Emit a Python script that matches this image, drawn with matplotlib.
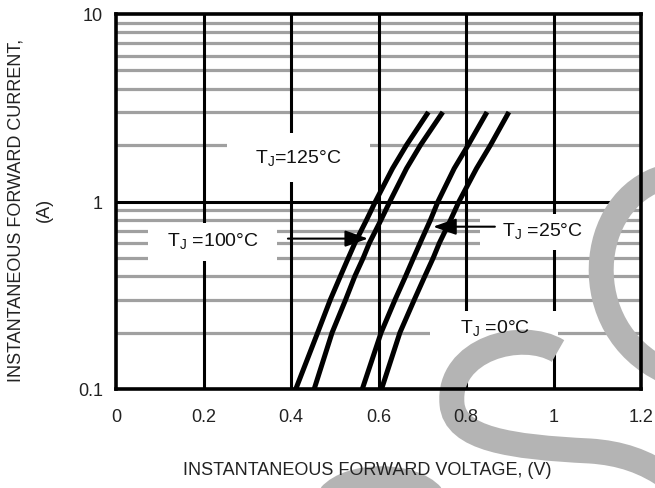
import matplotlib
matplotlib.use('Agg')
import matplotlib.pyplot as plt
from matplotlib.patches import Rectangle, PathPatch
from matplotlib.path import Path
from matplotlib.ticker import NullLocator, FixedLocator, FixedFormatter

# forward current (A) at which the curves were read
current_a = [0.1, 0.2, 0.3, 0.4, 0.5, 0.6, 0.8, 1.0, 1.5, 2.0, 3.0]

# forward voltage (V) per junction temperature
v_125c = [0.411, 0.461, 0.490, 0.513, 0.531, 0.546, 0.573, 0.593, 0.632, 0.664, 0.714]
v_100c = [0.453, 0.494, 0.525, 0.546, 0.565, 0.579, 0.606, 0.626, 0.664, 0.696, 0.747]
v_25c = [0.563, 0.606, 0.638, 0.662, 0.680, 0.695, 0.719, 0.736, 0.773, 0.805, 0.848]
v_0c = [0.607, 0.649, 0.682, 0.706, 0.725, 0.739, 0.765, 0.784, 0.824, 0.856, 0.898]

x_ticks = [0, 0.2, 0.4, 0.6, 0.8, 1.0, 1.2]
x_tick_labels = ['0', '0.2', '0.4', '0.6', '0.8', '1', '1.2']
y_ticks = [0.1, 1, 10]
y_tick_labels = ['0.1', '1', '10']

plt.rcParams['font.family'] = ['Liberation Sans', 'DejaVu Sans']
plt.rcParams['mathtext.fontset'] = 'custom'
plt.rcParams['mathtext.rm'] = 'Liberation Sans'
plt.rcParams['mathtext.it'] = 'Liberation Sans:italic'
plt.rcParams['mathtext.bf'] = 'Liberation Sans:bold'
plt.rcParams['mathtext.default'] = 'regular'

W, H = 655, 489
fig = plt.figure(figsize=(W / 100, H / 100), dpi=100)
ax = fig.add_axes([116 / W, 1 - 390 / H, 525 / W, 375 / H])
ax.set_yscale('log')
ax.set_xlim(0, 1.2)
ax.set_ylim(0.1, 10)

GRAY = '#a0a0a0'

# grid: gray minor decades, black majors
for d in (0.1, 1):
    for m in range(2, 10):
        ax.axhline(m * d, color=GRAY, lw=2.3, zorder=1)
ax.axhline(1, color='black', lw=2.2, zorder=1.1)
for v in x_ticks[1:-1]:
    ax.axvline(v, color='black', lw=2.2, zorder=1.1)

# white boxes behind the labels (they cut the grid)
boxes = [
    (0.253, 1.27, 0.581, 2.32),
    (0.073, 0.484, 0.368, 0.77),
    (0.832, 0.554, 1.122, 0.86),
    (0.718, 0.163, 1.010, 0.26),
]
for x0, y0, x1, y1 in boxes:
    ax.add_patch(Rectangle((x0, y0), x1 - x0, y1 - y0, facecolor='white',
                           edgecolor='none', zorder=1.2))

# faint watermark (pixel coordinates of the picture)
def px(x, y):
    return (x / W, 1 - y / H)

C4 = Path.CURVE4
wm_paths = [
    [(665, 178), (585, 200), (575, 330), (665, 372)],
    [(558, 352), (522, 330), (447, 350), (452, 405),
     (455, 440), (510, 448), (590, 452),
     (620, 454), (645, 462), (670, 480)],
    [(330, 497), (350, 474), (412, 474), (432, 497)],
]
for pts in wm_paths:
    verts = [px(*p) for p in pts]
    codes = [Path.MOVETO] + [C4] * (len(verts) - 1)
    ax.add_patch(PathPatch(Path(verts, codes), fill=False, edgecolor='#b4b4b4',
                           lw=18, capstyle='butt', transform=fig.transFigure,
                           clip_on=False, zorder=1.5))

for series in (v_125c, v_100c, v_25c, v_0c):
    ax.plot(series, current_a, color='black', lw=3.6, zorder=3,
            solid_capstyle='butt', solid_joinstyle='round')

lbl = dict(fontsize=14, color='#111111', ha='center', va='center', zorder=4)
ax.text(0.416, 1.73, 'T$_J$=125°C', **lbl)
ax.text(0.2206, 0.621, 'T$_J$ =100°C', **lbl)
ax.text(0.975, 0.707, 'T$_J$ =25°C', **lbl)
ax.text(0.866, 0.2134, 'T$_J$ =0°C', **lbl)

arrow = dict(arrowstyle='-|>,head_length=0.7,head_width=0.25', color='black',
             lw=1.5, mutation_scale=20, shrinkA=0, shrinkB=0)
ax.annotate('', xy=(0.576, 0.634), xytext=(0.393, 0.634),
            arrowprops=arrow, zorder=4)
ax.annotate('', xy=(0.725, 0.734), xytext=(0.866, 0.734),
            arrowprops=arrow, zorder=4)

for s in ax.spines.values():
    s.set_linewidth(2.6)
    s.set_color('black')
    s.set_zorder(3.5)

ax.xaxis.set_major_locator(FixedLocator(x_ticks))
ax.xaxis.set_major_formatter(FixedFormatter(x_tick_labels))
ax.yaxis.set_major_locator(FixedLocator(y_ticks))
ax.yaxis.set_major_formatter(FixedFormatter(y_tick_labels))
ax.yaxis.set_minor_locator(NullLocator())
ax.tick_params(axis='x', length=0, pad=13.5, labelsize=13, labelcolor='#222222')
ax.tick_params(axis='y', length=0, pad=9.5, labelsize=13, labelcolor='#222222')

fig.text(367 / W, 1 - 471 / H, 'INSTANTANEOUS FORWARD VOLTAGE, (V)',
         fontsize=13, color='#222222', ha='center', va='center')
fig.text(16 / W, 1 - 210 / H, 'INSTANTANEOUS FORWARD CURRENT,',
         fontsize=13, color='#222222', rotation=90, ha='center', va='center')
fig.text(44 / W, 1 - 210 / H, '(A)',
         fontsize=13, color='#222222', rotation=90, ha='center', va='center')

fig.savefig('out.png', dpi=100)
